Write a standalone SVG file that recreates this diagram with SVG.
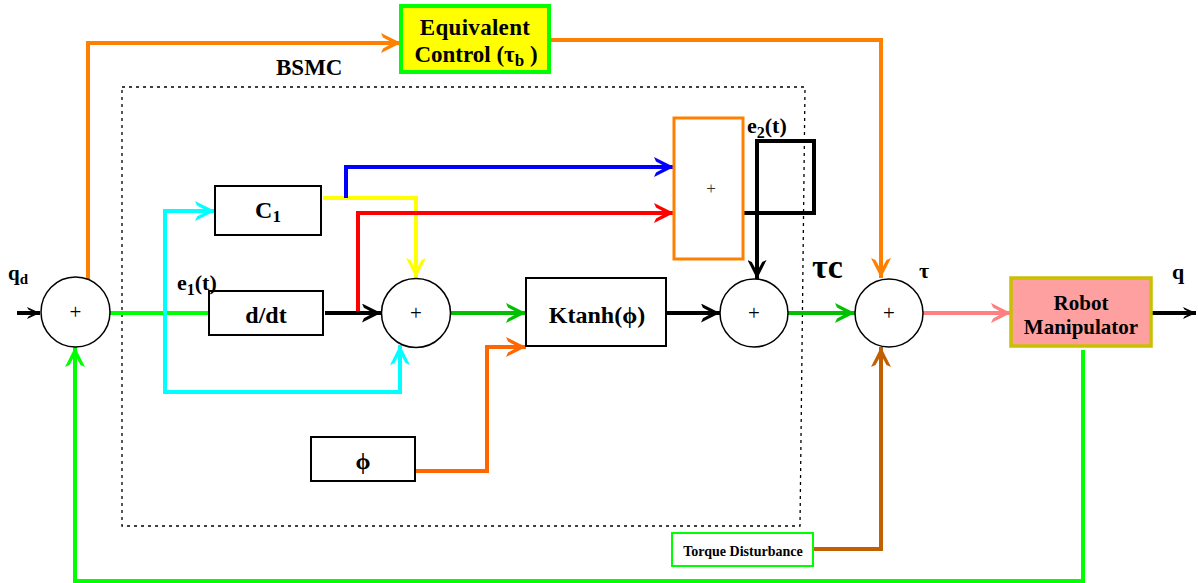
<svg xmlns="http://www.w3.org/2000/svg" width="1198" height="583" viewBox="0 0 1198 583">
<style>
.t{font-family:"Liberation Serif","Times New Roman",serif;font-weight:bold;fill:#000}
.p{font-family:"Liberation Serif","Times New Roman",serif;font-size:21px;fill:#000}
.box{fill:#fff;stroke:#000;stroke-width:2}
.sum{fill:#fff;stroke:#000;stroke-width:1.5}
.c{fill:none;stroke-width:4;stroke-linejoin:miter}
</style>
<defs>
<marker id="a-or" viewBox="0 0 20 20" refX="20" refY="10" markerWidth="20" markerHeight="20" markerUnits="userSpaceOnUse" orient="auto"><path d="M0,0 L20,10 L0,20 L2,15.5 L12,10 L2,4.5 Z" fill="#FF8000"/></marker>
<marker id="a-cy" viewBox="0 0 20 20" refX="20" refY="10" markerWidth="20" markerHeight="20" markerUnits="userSpaceOnUse" orient="auto"><path d="M0,0 L20,10 L0,20 L2,15.5 L12,10 L2,4.5 Z" fill="#00FFFF"/></marker>
<marker id="a-ye" viewBox="0 0 20 20" refX="20" refY="10" markerWidth="20" markerHeight="20" markerUnits="userSpaceOnUse" orient="auto"><path d="M0,0 L20,10 L0,20 L2,15.5 L12,10 L2,4.5 Z" fill="#FFFF00"/></marker>
<marker id="a-bl" viewBox="0 0 20 20" refX="20" refY="10" markerWidth="20" markerHeight="20" markerUnits="userSpaceOnUse" orient="auto"><path d="M0,0 L20,10 L0,20 L2,15.5 L12,10 L2,4.5 Z" fill="#0000FF"/></marker>
<marker id="a-rd" viewBox="0 0 20 20" refX="20" refY="10" markerWidth="20" markerHeight="20" markerUnits="userSpaceOnUse" orient="auto"><path d="M0,0 L20,10 L0,20 L2,15.5 L12,10 L2,4.5 Z" fill="#FF0000"/></marker>
<marker id="a-bk" viewBox="0 0 20 20" refX="20" refY="10" markerWidth="20" markerHeight="19" markerUnits="userSpaceOnUse" orient="auto"><path d="M0,0 L20,10 L0,20 L2,15.5 L12,10 L2,4.5 Z" fill="#000"/></marker>
<marker id="a-dg" viewBox="0 0 20 20" refX="20" refY="10" markerWidth="20" markerHeight="20" markerUnits="userSpaceOnUse" orient="auto"><path d="M0,0 L20,10 L0,20 L2,15.5 L12,10 L2,4.5 Z" fill="#00C000"/></marker>
<marker id="a-lg" viewBox="0 0 20 20" refX="20" refY="10" markerWidth="20" markerHeight="20" markerUnits="userSpaceOnUse" orient="auto"><path d="M0,0 L20,10 L0,20 L2,15.5 L12,10 L2,4.5 Z" fill="#00FF00"/></marker>
<marker id="a-pk" viewBox="0 0 20 20" refX="20" refY="10" markerWidth="20" markerHeight="20" markerUnits="userSpaceOnUse" orient="auto"><path d="M0,0 L20,10 L0,20 L2,15.5 L12,10 L2,4.5 Z" fill="#FF8080"/></marker>
<marker id="a-br" viewBox="0 0 20 20" refX="20" refY="10" markerWidth="20" markerHeight="20" markerUnits="userSpaceOnUse" orient="auto"><path d="M0,0 L20,10 L0,20 L2,15.5 L12,10 L2,4.5 Z" fill="#C06000"/></marker>
<marker id="a-o2" viewBox="0 0 20 20" refX="20" refY="10" markerWidth="20" markerHeight="20" markerUnits="userSpaceOnUse" orient="auto"><path d="M0,0 L20,10 L0,20 L2,15.5 L12,10 L2,4.5 Z" fill="#FF6600"/></marker>
<marker id="a-sm" viewBox="0 0 12 12" refX="12" refY="6" markerWidth="13" markerHeight="13" markerUnits="userSpaceOnUse" orient="auto"><path d="M0,0.5 L12,6 L0,11.5 L1.5,9 L8,6 L1.5,3 Z" fill="#000"/></marker>
</defs>
<rect width="1198" height="583" fill="#fff"/>

<g id="bsmc">
<path d="M122,87 H805 L800,526 H122 Z" fill="none" stroke="#000" stroke-width="1.3" stroke-dasharray="3,4"/>
<text class="t" x="276" y="75" font-size="23">BSMC</text>
</g>

<g id="connectors">
<path class="c" d="M17,313 H40" stroke="#000" stroke-width="1.5" marker-end="url(#a-sm)"/>
<path class="c" d="M88,279 V43 H401" stroke="#FF8000" marker-end="url(#a-or)"/>
<path class="c" d="M549,40 H881 V278" stroke="#FF8000" marker-end="url(#a-or)"/>
<path class="c" d="M110,313 H209" stroke="#00FF00"/>
<path class="c" d="M165,313 V211 H215" stroke="#00FFFF" marker-end="url(#a-cy)"/>
<path class="c" d="M165,313 V392 H400 V345" stroke="#00FFFF" marker-end="url(#a-cy)"/>
<path class="c" d="M323,198 H416 V278" stroke="#FFFF00" marker-end="url(#a-ye)"/>
<path class="c" d="M346,198 V167 H674" stroke="#0000FF" marker-end="url(#a-bl)"/>
<path class="c" d="M358,313 V213 H674" stroke="#FF0000" marker-end="url(#a-rd)"/>
<path class="c" d="M325,313 H381" stroke="#000" marker-end="url(#a-bk)"/>
<path class="c" d="M451,313 H526" stroke="#00C000" marker-end="url(#a-dg)"/>
<path class="c" d="M415,471 H487 V347 H526" stroke="#FF6600" marker-end="url(#a-o2)"/>
<path class="c" d="M666,313 H720" stroke="#000" marker-end="url(#a-bk)"/>
<path class="c" d="M743,213 H814 V141 H757 V279" stroke="#000" marker-end="url(#a-bk)"/>
<path class="c" d="M788,313 H855" stroke="#00C000" marker-end="url(#a-dg)"/>
<path class="c" d="M923,313 H1011" stroke="#FF8080" marker-end="url(#a-pk)"/>
<path class="c" d="M813,549 H881 V347" stroke="#C06000" marker-end="url(#a-br)"/>
<path class="c" d="M1083,350 V581 H75 V347" stroke="#00FF00" stroke-width="3" marker-end="url(#a-lg)"/>
<path class="c" d="M1151,313 H1196" stroke="#000" stroke-width="1.5" marker-end="url(#a-sm)"/>
</g>

<g id="sum1">
<ellipse class="sum" cx="75.5" cy="312" rx="34.5" ry="35"/>
<text class="p" x="75.5" y="319" text-anchor="middle">+</text>
<text class="t" x="8" y="280" font-size="21">q<tspan font-size="15" dy="4">d</tspan></text>
</g>

<g id="equivalent-control">
<rect x="401" y="6" width="148" height="66" fill="#FFFF00" stroke="#00FF00" stroke-width="4"/>
<text class="t" x="475" y="35" font-size="23" text-anchor="middle" letter-spacing="0.3">Equivalent</text>
<text class="t" x="476" y="62" font-size="23" text-anchor="middle">Control (τ<tspan font-size="17" dy="4">b</tspan><tspan dy="-4"> )</tspan></text>
</g>

<g id="c1">
<rect class="box" x="215" y="186" width="106" height="49"/>
<text class="t" x="268" y="218" font-size="24" text-anchor="middle">C<tspan font-size="17" dy="4">1</tspan></text>
</g>

<g id="ddt">
<rect class="box" x="209" y="291" width="114" height="44"/>
<text class="t" x="266" y="323" font-size="24" text-anchor="middle">d/dt</text>
<text class="t" x="177" y="290" font-size="22">e<tspan font-size="16" dy="5">1</tspan><tspan dy="-5">(t)</tspan></text>
</g>

<g id="sum2">
<circle class="sum" cx="416" cy="313" r="34.5"/>
<text class="p" x="416" y="320" text-anchor="middle">+</text>
</g>

<g id="phi">
<rect class="box" x="311" y="437" width="104" height="44"/>
<text class="t" x="363" y="469" font-size="24" text-anchor="middle">ϕ</text>
</g>

<g id="ktanh">
<rect class="box" x="526" y="278" width="140" height="68"/>
<text class="t" x="597" y="323" font-size="24" text-anchor="middle">Ktanh(ϕ)</text>
</g>

<g id="sum-e2">
<rect x="674" y="118" width="69" height="141" fill="#fff" stroke="#FF8000" stroke-width="3"/>
<text x="711" y="194" font-family="Liberation Serif, serif" font-size="17" fill="#333" text-anchor="middle">+</text>
<text class="t" x="747" y="133" font-size="22">e<tspan font-size="16" dy="5">2</tspan><tspan dy="-5">(t)</tspan></text>
</g>

<g id="sum3">
<circle class="sum" cx="754" cy="313" r="34"/>
<text class="p" x="754" y="320" text-anchor="middle">+</text>
<text class="t" x="812" y="278" font-size="34">τc</text>
</g>

<g id="sum4">
<circle class="sum" cx="889" cy="313" r="34"/>
<text class="p" x="889" y="320" text-anchor="middle">+</text>
<text class="t" x="919" y="278" font-size="22">τ</text>
</g>

<g id="robot">
<rect x="1011" y="278" width="140" height="68" fill="#FFA0A0" stroke="#C8C000" stroke-width="3.5"/>
<text class="t" x="1081" y="310" font-size="21" text-anchor="middle">Robot</text>
<text class="t" x="1081" y="334" font-size="21" text-anchor="middle">Manipulator</text>
<text class="t" x="1172" y="279" font-size="22">q</text>
</g>

<g id="torque">
<rect x="672" y="533" width="141" height="33" fill="#fff" stroke="#00FF00" stroke-width="2"/>
<text class="t" x="743" y="556" font-size="14" text-anchor="middle">Torque Disturbance</text>
</g>
</svg>
